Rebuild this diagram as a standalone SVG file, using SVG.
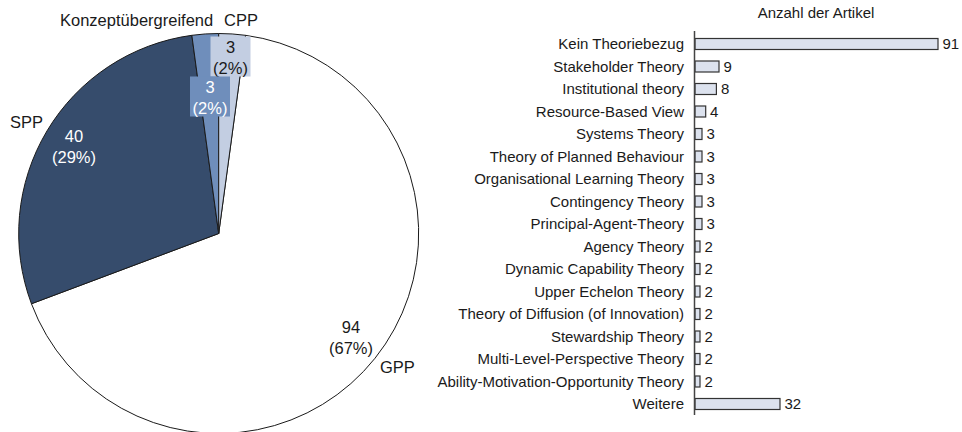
<svg xmlns="http://www.w3.org/2000/svg" width="962" height="432" viewBox="0 0 962 432">
<style>
  text { font-family: "Liberation Sans", Arial, sans-serif; fill: #1a1a1a; }
  .pl { font-size: 16.5px; }
  .pc { font-size: 16.5px; text-anchor: middle; }
  .w { fill: #ffffff; }
  .lbl { font-size: 15px; text-anchor: end; }
  .val { font-size: 15px; }
  .slice { stroke: #1a1a1a; stroke-width: 1; stroke-linejoin: round; }
  .bar { fill: #DCE2EE; stroke: #333; stroke-width: 1.2; }
</style>
<rect width="962" height="432" fill="#ffffff"/>

<g id="pie">
  <g id="slice-gpp"><path class="slice" fill="#ffffff" d="M218.7,233.5 L245.55,35.31 A200,200 0 1 1 31.44,303.76 Z"/></g>
  <g id="slice-spp"><path class="slice" fill="#364C6C" d="M218.7,233.5 L31.44,303.76 A200,200 0 0 1 191.85,35.31 Z"/></g>
  <g id="slice-konzept"><path class="slice" fill="#6F8EBB" d="M218.7,233.5 L191.85,35.31 A200,200 0 0 1 218.7,33.5 Z"/></g>
  <g id="slice-cpp"><path class="slice" fill="#C3CEE2" d="M218.7,233.5 L218.7,33.5 A200,200 0 0 1 245.55,35.31 Z"/></g>

  <g id="label-cpp">
    <rect x="210.5" y="36.5" width="40" height="40" fill="#C3CEE2"/>
    <text class="pc" x="230.5" y="53">3</text>
    <text class="pc" x="230.5" y="74">(2%)</text>
  </g>
  <g id="label-konzept">
    <rect x="190" y="76.5" width="40" height="40" fill="#6F8EBB"/>
    <text class="pc w" x="210" y="93">3</text>
    <text class="pc w" x="210" y="114">(2%)</text>
  </g>
  <g id="label-spp">
    <text class="pc w" x="74" y="142">40</text>
    <text class="pc w" x="74" y="163">(29%)</text>
    <text class="pl" x="10" y="128">SPP</text>
  </g>
  <g id="label-gpp">
    <text class="pc" x="351" y="333">94</text>
    <text class="pc" x="351" y="354">(67%)</text>
    <text class="pl" x="380" y="373">GPP</text>
  </g>
  <text class="pl" x="60" y="26">Konzeptübergreifend</text>
  <text class="pl" x="224" y="26">CPP</text>
</g>

<g id="barchart">
  <text class="val" x="816" y="18" text-anchor="middle">Anzahl der Artikel</text>
  <g id="bars">
    <g id="row-0"><text class="lbl" x="684" y="49">Kein Theoriebezug</text><rect class="bar" x="695" y="38.5" width="243" height="11"/><text class="val" x="942.5" y="49">91</text></g>
    <g id="row-1"><text class="lbl" x="684" y="71.5">Stakeholder Theory</text><rect class="bar" x="695" y="61" width="24" height="11"/><text class="val" x="723.5" y="71.5">9</text></g>
    <g id="row-2"><text class="lbl" x="684" y="94">Institutional theory</text><rect class="bar" x="695" y="83.5" width="21.4" height="11"/><text class="val" x="721" y="94">8</text></g>
    <g id="row-3"><text class="lbl" x="684" y="116.5">Resource-Based View</text><rect class="bar" x="695" y="106" width="10.7" height="11"/><text class="val" x="710" y="116.5">4</text></g>
    <g id="row-4"><text class="lbl" x="684" y="139">Systems Theory</text><rect class="bar" x="695" y="128.5" width="7" height="11"/><text class="val" x="706.5" y="139">3</text></g>
    <g id="row-5"><text class="lbl" x="684" y="161.5">Theory of Planned Behaviour</text><rect class="bar" x="695" y="151" width="7" height="11"/><text class="val" x="706.5" y="161.5">3</text></g>
    <g id="row-6"><text class="lbl" x="684" y="184">Organisational Learning Theory</text><rect class="bar" x="695" y="173.5" width="7" height="11"/><text class="val" x="706.5" y="184">3</text></g>
    <g id="row-7"><text class="lbl" x="684" y="206.5">Contingency Theory</text><rect class="bar" x="695" y="196" width="7" height="11"/><text class="val" x="706.5" y="206.5">3</text></g>
    <g id="row-8"><text class="lbl" x="684" y="229">Principal-Agent-Theory</text><rect class="bar" x="695" y="218.5" width="7" height="11"/><text class="val" x="706.5" y="229">3</text></g>
    <g id="row-9"><text class="lbl" x="684" y="251.5">Agency Theory</text><rect class="bar" x="695" y="241" width="5" height="11"/><text class="val" x="704.5" y="251.5">2</text></g>
    <g id="row-10"><text class="lbl" x="684" y="274">Dynamic Capability Theory</text><rect class="bar" x="695" y="263.5" width="5" height="11"/><text class="val" x="704.5" y="274">2</text></g>
    <g id="row-11"><text class="lbl" x="684" y="296.5">Upper Echelon Theory</text><rect class="bar" x="695" y="286" width="5" height="11"/><text class="val" x="704.5" y="296.5">2</text></g>
    <g id="row-12"><text class="lbl" x="684" y="319">Theory of Diffusion (of Innovation)</text><rect class="bar" x="695" y="308.5" width="5" height="11"/><text class="val" x="704.5" y="319">2</text></g>
    <g id="row-13"><text class="lbl" x="684" y="341.5">Stewardship Theory</text><rect class="bar" x="695" y="331" width="5" height="11"/><text class="val" x="704.5" y="341.5">2</text></g>
    <g id="row-14"><text class="lbl" x="684" y="364">Multi-Level-Perspective Theory</text><rect class="bar" x="695" y="353.5" width="5" height="11"/><text class="val" x="704.5" y="364">2</text></g>
    <g id="row-15"><text class="lbl" x="684" y="386.5">Ability-Motivation-Opportunity Theory</text><rect class="bar" x="695" y="376" width="5" height="11"/><text class="val" x="704.5" y="386.5">2</text></g>
    <g id="row-16"><text class="lbl" x="684" y="409">Weitere</text><rect class="bar" x="695" y="398.5" width="85" height="11"/><text class="val" x="784.5" y="409">32</text></g>
  </g>
  <g id="connectors">
    <line x1="694.5" y1="31" x2="694.5" y2="415" stroke="#444" stroke-width="1.5"/>
  </g>
</g>
</svg>
